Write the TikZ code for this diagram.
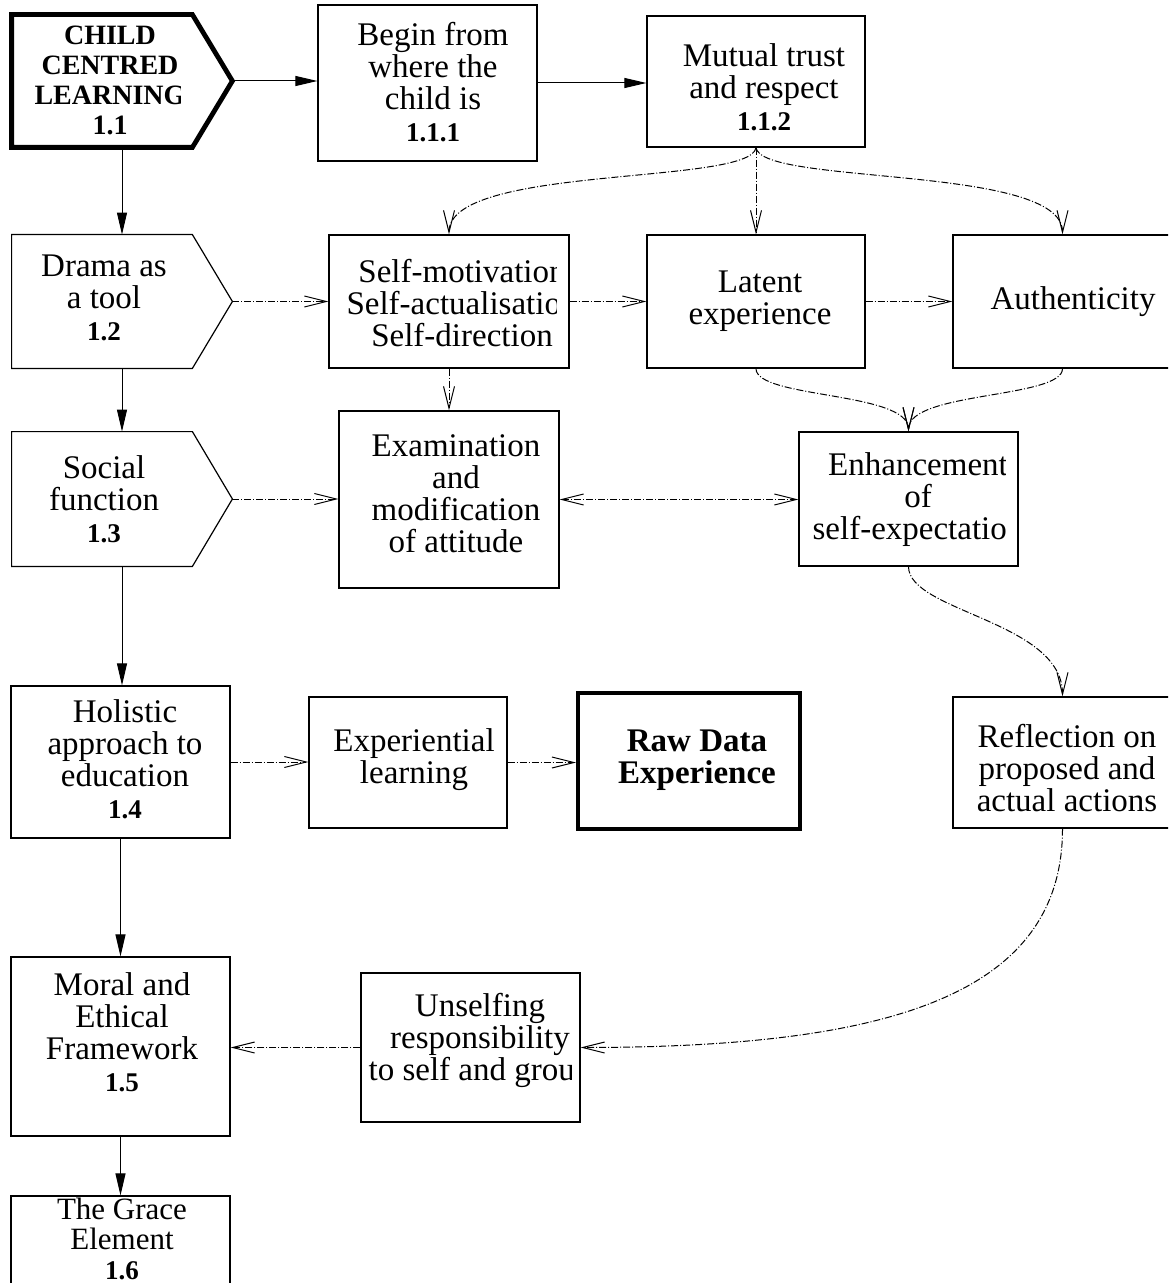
\documentclass[tikz,border=0pt]{standalone}
\usepackage{fontspec}
\setmainfont{Liberation Serif}
\usetikzlibrary{arrows.meta}
\newcommand{\numtxt}[1]{{\fontsize{13.5}{16}\selectfont\bfseries #1}}
\begin{document}
\begin{tikzpicture}[x=0.5pt,y=-0.5pt,
  box/.style={draw, line width=0.6pt, inner sep=0pt},
  ghost/.style={inner sep=0pt},
  txt/.style={align=center, inner sep=0pt, font=\fontsize{16.5}{16}\selectfont},
  sol/.style={line width=0.5pt, -{Triangle[length=11pt,width=5pt]}},
  dsh/.style={line width=0.5pt, dash pattern=on 3.5pt off 1pt on 0.5pt off 1pt, -{Straight Barb[length=11pt,width=5.5pt]}},
  dshboth/.style={line width=0.5pt, dash pattern=on 3.5pt off 1pt on 0.5pt off 1pt, {Straight Barb[length=11pt,width=5.5pt]}-{Straight Barb[length=11pt,width=5.5pt]}},
]
\useasboundingbox (0,0) rectangle (1168,1283);
\clip (0,0) rectangle (1168,1283);

% ---------- boxes ----------
\node[ghost, minimum width=110pt, minimum height=66pt] (n11) at (122,81) {};
\draw[line width=2.4pt, line join=miter] (n11.north west) -- ([xshift=-20pt]n11.north east) -- (n11.east) -- ([xshift=-20pt]n11.south east) -- (n11.south west) -- cycle;
\node[box, minimum width=109.5pt, minimum height=78pt] (n111) at (427.5,83) {};
\node[box, minimum width=109pt, minimum height=65.5pt] (n112) at (756,81.5) {};

\node[ghost, minimum width=110pt, minimum height=66.5pt] (n12) at (122,301.5) {};
\draw[line width=0.6pt] (n12.north west) -- ([xshift=-20pt]n12.north east) -- (n12.east) -- ([xshift=-20pt]n12.south east) -- (n12.south west) -- cycle;
\node[box, minimum width=120pt, minimum height=66.5pt] (nself) at (449,301.5) {};
\node[box, minimum width=109pt, minimum height=66.5pt] (nlat) at (756,301.5) {};
\node[box, minimum width=109.5pt, minimum height=66.5pt] (nauth) at (1062.5,301.5) {};

\node[ghost, minimum width=110pt, minimum height=67pt] (n13) at (122,499) {};
\draw[line width=0.6pt] (n13.north west) -- ([xshift=-20pt]n13.north east) -- (n13.east) -- ([xshift=-20pt]n13.south east) -- (n13.south west) -- cycle;
\node[box, minimum width=110pt, minimum height=88.5pt] (nexam) at (449,499.5) {};
\node[box, minimum width=109.5pt, minimum height=67pt] (nenh) at (908.5,499) {};

\node[box, minimum width=109.5pt, minimum height=76pt] (n14) at (120.5,762) {};
\node[box, minimum width=99pt, minimum height=65.5pt] (nexp) at (408,762.5) {};
\node[box, line width=2pt, minimum width=111pt, minimum height=68pt] (nraw) at (689,761) {};
\node[box, minimum width=109.5pt, minimum height=65.5pt] (nrefl) at (1062.5,762.5) {};

\node[box, minimum width=109.5pt, minimum height=89.5pt] (n15) at (120.5,1046.5) {};
\node[box, minimum width=109.5pt, minimum height=74.5pt] (nuns) at (470.5,1047.5) {};
\node[box, minimum width=109.5pt, minimum height=89.5pt] (n16) at (120.5,1285.5) {};

% ---------- texts ----------
\begin{scope}
\clip (12,15) rectangle (180,147);
\node[txt, font=\fontsize{14}{15}\selectfont\bfseries] (t11) at (110,80) {CHILD\\CENTRED\\LEARNING\\1.1};
\end{scope}
\node[txt] (t111) at (433,82) {Begin from\\where the\\child is\\\numtxt{1.1.1}};
\node[txt] (t112) at (764,87) {Mutual trust\\and respect\\\numtxt{1.1.2}};
\node[txt] (t12) at (104,298) {Drama as\\a tool\\\numtxt{1.2}};
\begin{scope}
\clip (329,235) rectangle (556,368);
\node[txt] (tself) at (462,303) {Self-motivation\\Self-actualisation\\Self-direction};
\end{scope}
\node[txt] (tlat) at (760,301.5) {Latent\\experience};
\node[txt] (tauth) at (1073,302) {Authenticity};
\node[txt] (t13) at (104,499) {Social\\function\\\numtxt{1.3}};
\node[txt] (texam) at (456,494) {Examination\\and\\modification\\of attitude};
\begin{scope}
\clip (799,432) rectangle (1005,566);
\node[txt] (tenh) at (918,499.5) {Enhancement\\of\\self-expectation};
\end{scope}
\node[txt] (t14) at (125,759) {Holistic\\approach to\\education\\\numtxt{1.4}};
\node[txt] (texp) at (414,759.5) {Experiential\\learning};
\node[txt, font=\fontsize{16.5}{16}\selectfont\bfseries] (traw) at (697,760) {Raw Data\\Experience};
\node[txt] (trefl) at (1067,768) {Reflection on\\proposed and\\actual actions};
\node[txt] (t15) at (122,1032) {Moral and\\Ethical\\Framework\\\numtxt{1.5}};
\begin{scope}
\clip (361,973) rectangle (571,1122);
\node[txt] (tuns) at (480,1040) {Unselfing\\responsibility\\to self and group};
\end{scope}
\node[txt, font=\fontsize{15.5}{14.8}\selectfont] (t16) at (122,1239) {The Grace\\Element\\{\fontsize{13.5}{14.8}\selectfont\bfseries 1.6}};

% ---------- solid connectors ----------
\draw[sol] (n11.east) -- (n11.east -| n111.west);
\draw[sol] (n111.east) -- (n111.east -| n112.west);
\draw[sol] (n11.south) -- (n11.south |- n12.north);
\draw[sol] (n12.south) -- (n12.south |- n13.north);
\draw[sol] (n13.south) -- (n13.south |- n14.north);
\draw[sol] (n14.south) -- (n14.south |- n15.north);
\draw[sol] (n15.south) -- (n15.south |- n16.north);

% ---------- dashed connectors ----------
\draw[dsh] (n112.south) .. controls +(-5,38) and +(0,-70) .. (nself.north);
\draw[dsh] (n112.south) -- (nlat.north);
\draw[dsh] (n112.south) .. controls +(5,38) and +(0,-70) .. (nauth.north);
\draw[dsh] (n12.east) -- (nself.west);
\draw[dsh] (nself.east) -- (nlat.west);
\draw[dsh] (nlat.east) -- (nauth.west);
\draw[dsh] (nself.south) -- (nexam.north);
\draw[dsh] (nlat.south) .. controls +(0,30) and +(0,-40) .. (nenh.north);
\draw[dsh] (nauth.south) .. controls +(0,30) and +(0,-40) .. (nenh.north);
\draw[dsh] (n13.east) -- (n13.east -| nexam.west);
\draw[dshboth] (nexam.east) -- (nexam.east -| nenh.west);
\draw[dsh] (nenh.south) .. controls +(0,45) and +(0,-75) .. (nrefl.north);
\draw[dsh] (n14.east) -- (n14.east -| nexp.west);
\draw[dsh] (nexp.east) -- (nexp.east -| nraw.west);
\draw[dsh] (nrefl.south) .. controls +(0,170) and +(300,0) .. (nuns.east);
\draw[dsh] (nuns.west) -- (nuns.west -| n15.east);
\end{tikzpicture}
\end{document}
